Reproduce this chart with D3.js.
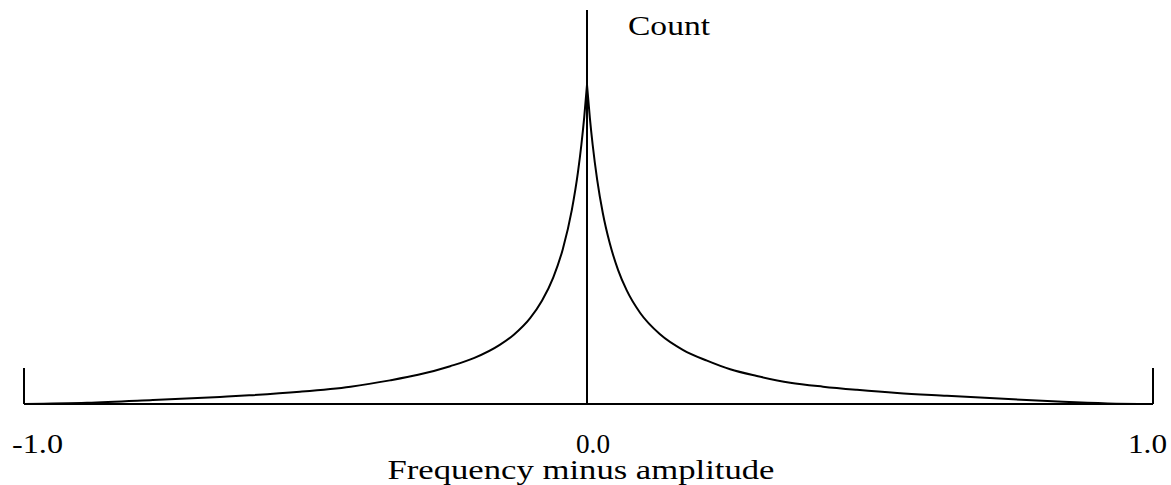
<!DOCTYPE html>
<html>
<head>
<meta charset="utf-8">
<script src="https://cdn.jsdelivr.net/npm/d3@7"></script>
<style>
  html, body { margin: 0; padding: 0; background: #fff; }
  svg text { font-family: "Liberation Serif", "Times New Roman", serif; fill: #000; }
</style>
</head>
<body>
<svg id="chart" width="1171" height="485"></svg>
<script>
// Distribution of (frequency - amplitude), counts in relative units.
const leftX  = [-1.0, -0.888, -0.771, -0.652, -0.600, -0.510, -0.420, -0.350, -0.300, -0.243, -0.200, -0.155, -0.130, -0.101, -0.080, -0.060, -0.043, -0.027, -0.016, -0.010, -0.005, 0.0];
const leftY  = [0.0, 0.3, 1.0, 1.8, 2.2, 3.1, 4.4, 6.0, 7.4, 9.6, 11.7, 15.0, 17.6, 21.8, 26.2, 32.1, 39.3, 49.2, 58.9, 65.8, 72.7, 81.0];
const rightX = [0.0, 0.005, 0.010, 0.018, 0.028, 0.040, 0.055, 0.070, 0.094, 0.129, 0.170, 0.212, 0.253, 0.300, 0.359, 0.417, 0.477, 0.548, 0.636, 0.753, 0.841, 0.920, 1.0];
const rightY = [81.0, 72.7, 65.8, 56.9, 48.4, 40.9, 34.0, 28.9, 23.1, 17.7, 13.7, 11.0, 8.8, 7.1, 5.4, 4.4, 3.6, 2.8, 2.1, 1.2, 0.55, 0.15, 0.0];
const tickValues = [-1.0, 0.0, 1.0];
const tickLabels = ["-1.0", "0.0", "1.0"];
const xTitle = "Frequency minus amplitude";
const yTitle = "Count";

const svg = d3.select("#chart");

const x = d3.scaleLinear().domain([-1, 0, 1]).range([24, 587, 1153]);
const y = d3.scaleLinear().domain([0, 100]).range([404, 10]);

const ink = "#000";

// Baseline
svg.append("line")
  .attr("x1", x(-1)).attr("x2", x(1))
  .attr("y1", y(0)).attr("y2", y(0))
  .attr("stroke", ink).attr("stroke-width", 2);

// End ticks pointing upward
svg.selectAll("line.endtick")
  .data([-1, 1])
  .join("line")
  .attr("class", "endtick")
  .attr("x1", d => x(d)).attr("x2", d => x(d))
  .attr("y1", y(0)).attr("y2", y(0) - 36)
  .attr("stroke", ink).attr("stroke-width", 2);

// Vertical count axis at zero
svg.append("line")
  .attr("x1", x(0)).attr("x2", x(0))
  .attr("y1", y(0)).attr("y2", y(100))
  .attr("stroke", ink).attr("stroke-width", 2);

// Curve: two monotone halves meeting at a sharp peak
const line = d3.line()
  .x(d => x(d[0]))
  .y(d => y(d[1]))
  .curve(d3.curveMonotoneX);

const halves = [
  leftX.map((v, i) => [v, leftY[i]]),
  rightX.map((v, i) => [v, rightY[i]])
];
svg.selectAll("path.curve")
  .data(halves)
  .join("path")
  .attr("class", "curve")
  .attr("d", line)
  .attr("fill", "none")
  .attr("stroke", ink)
  .attr("stroke-width", 2);

// Tick labels
const labelSpec = [
  { anchor: "start",  dx: -12, len: 51 },
  { anchor: "middle", dx: 6,   len: 34 },
  { anchor: "end",    dx: 14,  len: 39 }
];
svg.selectAll("text.ticklabel")
  .data(tickValues)
  .join("text")
  .attr("class", "ticklabel")
  .attr("x", (d, i) => x(d) + labelSpec[i].dx)
  .attr("y", 453)
  .attr("text-anchor", (d, i) => labelSpec[i].anchor)
  .attr("font-size", 27)
  .attr("textLength", (d, i) => labelSpec[i].len)
  .attr("lengthAdjust", "spacingAndGlyphs")
  .text((d, i) => tickLabels[i]);

// Axis titles
svg.append("text")
  .attr("x", 581).attr("y", 479)
  .attr("text-anchor", "middle")
  .attr("font-size", 27)
  .attr("textLength", 387)
  .attr("lengthAdjust", "spacingAndGlyphs")
  .text(xTitle);

svg.append("text")
  .attr("x", 628).attr("y", 35)
  .attr("font-size", 27)
  .attr("textLength", 82)
  .attr("lengthAdjust", "spacingAndGlyphs")
  .text(yTitle);
</script>
</body>
</html>
